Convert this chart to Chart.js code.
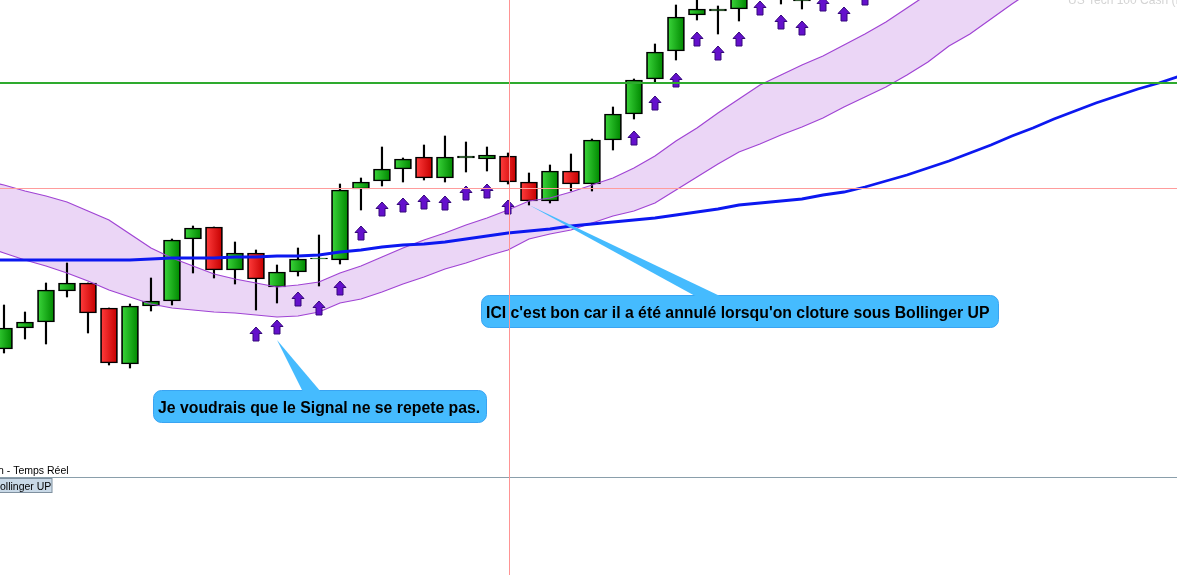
<!DOCTYPE html>
<html>
<head>
<meta charset="utf-8">
<script src="https://cdn.jsdelivr.net/npm/chart.js@4.4.0/dist/chart.umd.min.js"></script>
<style>
  html, body { margin: 0; padding: 0; background: #fff; overflow: hidden; }
  #wrap { width: 1177px; height: 575px; }
</style>
</head>
<body>
<div id="wrap"><canvas id="chart" width="1177" height="575"></canvas></div>
<script>
/* ---------------- DATA ---------------- */
// candles, one per bar index 0..41 (later ones are above the visible range)
const opens  = [7251, 7272, 7278, 7309, 7317, 7292, 7236, 7294, 7299, 7361, 7373, 7330, 7347, 7313, 7328, 7341, 7340, 7411, 7419, 7431,
                7443, 7422, 7442, 7441, 7444, 7418, 7399, 7429, 7416, 7460, 7486, 7521, 7549, 7585, 7589, 7591, 7620, 7615, 7599, 7625,
                7615, 7630];
const highs  = [7295, 7288, 7317, 7337, 7317, 7292, 7296, 7322, 7361, 7374, 7373, 7358, 7350, 7335, 7352, 7365, 7416, 7422, 7453, 7442,
                7455, 7464, 7458, 7453, 7447, 7427, 7435, 7446, 7461, 7493, 7521, 7556, 7595, 7605, 7594, 7625, 7640, 7630, 7615, 7645,
                7635, 7650];
const lows   = [7247, 7261, 7256, 7303, 7267, 7235, 7232, 7289, 7295, 7327, 7322, 7316, 7290, 7297, 7324, 7314, 7336, 7390, 7414, 7418,
                7420, 7418, 7428, 7429, 7416, 7395, 7397, 7409, 7409, 7450, 7481, 7518, 7540, 7580, 7566, 7579, 7613, 7596, 7591, 7613,
                7606, 7622];
const closes = [7272, 7278, 7310, 7317, 7287, 7237, 7294, 7299, 7360, 7372, 7330, 7347, 7321, 7328, 7341, 7342, 7410, 7418, 7431, 7441,
                7422, 7443, 7444, 7445, 7418, 7399, 7429, 7416, 7460, 7486, 7520, 7548, 7583, 7591, 7591, 7612, 7630, 7622, 7601, 7635,
                7625, 7640];

// purple "Bollinger UP" signal arrows (null = no signal)
const signals = [null, null, null, null, null, null, null, null, null, null, null, null, 7266, 7273, 7301, 7292, 7312, 7367, 7391, 7395,
                 7398, 7397, 7407, 7409, 7393, null, null, null, null, null, 7462, 7497, 7520, 7561, 7547, 7561, 7592, 7578, 7572, 7596,
                 7586, 7602];

// Bollinger band and moving average, bar index -1..56 (first bar is off the left edge)
const lineStart = -1;
const bandUp  = [7420, 7415, 7409, 7404, 7398, 7389, 7380, 7366, 7352, 7342, 7334, 7326, 7321, 7317, 7313, 7315, 7318, 7327, 7334, 7343,
                 7352, 7360, 7367, 7375, 7382, 7390, 7399, 7402, 7408, 7415, 7422, 7432, 7444, 7459, 7472, 7487, 7501, 7515, 7525, 7535,
                 7544, 7555, 7566, 7578, 7592, 7606, 7620, 7634, 7648, 7662, 7676, 7690, 7704, 7718, 7732, 7746, 7760, 7774];
const bandLow = [7354, 7347, 7340, 7334, 7327, 7319, 7310, 7303, 7296, 7292, 7290, 7288, 7287, 7285, 7283, 7284, 7288, 7297, 7301, 7308,
                 7316, 7323, 7331, 7337, 7344, 7350, 7361, 7366, 7370, 7377, 7384, 7389, 7397, 7410, 7423, 7436, 7448, 7456, 7465, 7473,
                 7482, 7493, 7503, 7513, 7525, 7538, 7554, 7566, 7581, 7596, 7610, 7624, 7638, 7652, 7666, 7680, 7694, 7708];
const maLine  = [7340, 7340, 7340, 7340, 7340, 7340, 7340, 7340, 7341, 7342, 7342, 7342, 7343, 7343, 7344, 7344, 7345, 7348, 7350, 7353,
                 7355, 7356, 7358, 7361, 7364, 7367, 7369, 7371, 7374, 7376, 7378, 7380, 7382, 7385, 7388, 7391, 7395, 7397, 7399, 7401,
                 7405, 7408, 7413, 7419, 7425, 7432, 7439, 7447, 7455, 7464, 7472, 7481, 7489, 7497, 7504, 7511, 7517, 7524];

// horizontal levels and crosshair
const greenLevel = 7517;
const pinkLevel  = 7412;
const crossIndex = 24;

// texts
const noteSignal = "Je voudrais que le Signal ne se repete pas.";
const noteCancel = "ICI c'est bon car il a été annulé lorsqu'on cloture sous Bollinger UP";
const titleText  = "US Tech 100 Cash (FR)";
const feedText   = "n - Temps Réel";
const panelText  = "Bollinger UP";
/* -------------------------------------------------------------- */

const FONT = '"Liberation Sans", Arial, sans-serif';

const bodies = opens.map((o, i) => ({ x: i, y: [o, closes[i]] }));
const wicks  = lows.map((l, i) => ({ x: i, y: [l, highs[i]] }));
const arrows = signals.map((v, i) => v == null ? null : { x: i, y: v }).filter(Boolean);
const toXY   = arr => arr.map((v, i) => ({ x: i + lineStart, y: v }));

/* arrow glyph */
const arrowImg = document.createElement('canvas');
arrowImg.width = 14; arrowImg.height = 16;
(function () {
    const g = arrowImg.getContext('2d');
    g.beginPath();
    g.moveTo(7, 1); g.lineTo(13, 7.5); g.lineTo(10, 7.5); g.lineTo(10, 15);
    g.lineTo(4, 15); g.lineTo(4, 7.5); g.lineTo(1, 7.5); g.closePath();
    g.fillStyle = '#6410cc'; g.fill();
    g.strokeStyle = '#34087a'; g.lineWidth = 1; g.stroke();
})();

function bodyFill(c) {
    if (c.type !== 'data' || !c.raw) return '#22aa22';
    const i = c.raw.x;
    const up = closes[i] >= opens[i];
    const xs = c.chart.scales.x;
    const cx = xs ? xs.getPixelForValue(i) : NaN;
    if (!isFinite(cx)) return up ? '#22b022' : '#e01818';
    const g = c.chart.ctx.createLinearGradient(cx - 8, 0, cx + 8, 0);
    if (up) { g.addColorStop(0, '#3ad43a'); g.addColorStop(1, '#008800'); }
    else    { g.addColorStop(0, '#ff3c3c'); g.addColorStop(1, '#c60000'); }
    return g;
}

function rrect(ctx, x, y, w, h, r) {
    ctx.beginPath();
    ctx.moveTo(x + r, y);
    ctx.arcTo(x + w, y, x + w, y + h, r);
    ctx.arcTo(x + w, y + h, x, y + h, r);
    ctx.arcTo(x, y + h, x, y, r);
    ctx.arcTo(x, y, x + w, y, r);
    ctx.closePath();
}

function bubble(ctx, box, tip, base, text) {
    rrect(ctx, box.x + 0.5, box.y + 0.5, box.w, box.h, 8);
    ctx.fillStyle = '#45bbfe'; ctx.fill();
    ctx.strokeStyle = '#3aa4f2'; ctx.lineWidth = 1; ctx.stroke();
    ctx.beginPath();
    ctx.moveTo(tip.x, tip.y);
    ctx.lineTo(base[0], box.y + 2);
    ctx.lineTo(base[1], box.y + 2);
    ctx.closePath();
    ctx.fillStyle = '#45bbfe'; ctx.fill();
    ctx.fillStyle = '#000';
    ctx.font = 'bold 15.8px ' + FONT;
    ctx.textBaseline = 'alphabetic';
    ctx.fillText(text, box.x + 5, box.y + 23);
}

const overlay = {
    id: 'overlay',
    beforeDraw(chart) {
        const ctx = chart.ctx;
        ctx.save(); ctx.fillStyle = '#fff'; ctx.fillRect(0, 0, chart.width, chart.height); ctx.restore();
    },
    afterDatasetsDraw(chart) {
        const { ctx, chartArea: a } = chart;
        const x = chart.scales.x, y = chart.scales.y;
        ctx.save();

        // title (top right, mostly cut)
        ctx.font = '12px ' + FONT; ctx.fillStyle = '#d4d4d4'; ctx.textBaseline = 'alphabetic';
        ctx.fillText(titleText, 1068, 4);

        // levels
        const gy = Math.round(y.getPixelForValue(greenLevel));
        ctx.fillStyle = '#2eaa2e'; ctx.fillRect(a.left, gy - 1, a.right - a.left, 2);
        const py = Math.round(y.getPixelForValue(pinkLevel));
        ctx.fillStyle = '#ff9c9c'; ctx.fillRect(a.left, py, a.right - a.left, 1);

        // panel separator + labels
        ctx.fillStyle = '#8a9fab'; ctx.fillRect(0, a.bottom, chart.width, 1);
        ctx.font = '10.5px ' + FONT; ctx.fillStyle = '#000';
        ctx.fillText(feedText, -2, a.bottom - 3);
        ctx.fillStyle = '#c9d9e7'; ctx.fillRect(0, a.bottom + 1, 52, 15);
        ctx.strokeStyle = '#7f909f'; ctx.lineWidth = 1; ctx.strokeRect(-0.5, a.bottom + 1.5, 52.5, 14);
        ctx.fillStyle = '#000';
        ctx.fillText(panelText, -7, a.bottom + 13);

        // callouts
        bubble(ctx, { x: 153, y: 390, w: 333, h: 32 },
            { x: x.getPixelForValue(13), y: y.getPixelForValue(signals[13]) + 13 }, [303, 321], noteSignal);
        bubble(ctx, { x: 481, y: 295, w: 517, h: 32 },
            { x: x.getPixelForValue(25), y: y.getPixelForValue(lows[25]) }, [697, 722], noteCancel);

        // crosshair
        const cx = Math.round(x.getPixelForValue(crossIndex)) + 1;
        ctx.fillStyle = '#ff9494'; ctx.fillRect(cx, 0, 1, chart.height);
        ctx.restore();
    }
};

const chart = new Chart(document.getElementById('chart'), {
    type: 'bar',
    data: {
        datasets: [
            { type: 'line', data: toXY(bandUp), borderColor: '#a044d4', borderWidth: 1.2, pointRadius: 0,
              tension: 0, fill: '+1', backgroundColor: '#ebd6f6', order: 5 },
            { type: 'line', data: toXY(bandLow), borderColor: '#a044d4', borderWidth: 1.2, pointRadius: 0,
              tension: 0, fill: false, order: 5 },
            { type: 'line', data: toXY(maLine), borderColor: '#0c18f0', borderWidth: 2.8, pointRadius: 0,
              tension: 0, fill: false, order: 4 },
            { data: wicks, backgroundColor: '#000', borderWidth: 0, barThickness: 1.5, grouped: false, order: 10 },
            { data: bodies, backgroundColor: bodyFill, borderColor: '#000', borderWidth: 1.7, borderSkipped: false,
              barThickness: 17, grouped: false, order: 9 },
            { type: 'line', data: arrows, showLine: false, pointStyle: arrowImg, pointRadius: 7,
              pointHoverRadius: 7, order: 1 }
        ]
    },
    options: {
        responsive: false,
        animation: false,
        devicePixelRatio: 1,
        events: [],
        layout: { autoPadding: false, padding: { left: 0, right: 0, top: 0, bottom: 98 } },
        scales: {
            x: { type: 'linear', min: -0.19, max: 55.86, offset: false, display: false },
            y: { type: 'linear', min: 7123, max: 7600, display: false }
        },
        plugins: {
            legend: { display: false },
            tooltip: { enabled: false },
            filler: { drawTime: 'beforeDatasetsDraw' }
        }
    },
    plugins: [overlay]
});
// second pass so the body gradients see laid-out scales
chart.update();
</script>
</body>
</html>
